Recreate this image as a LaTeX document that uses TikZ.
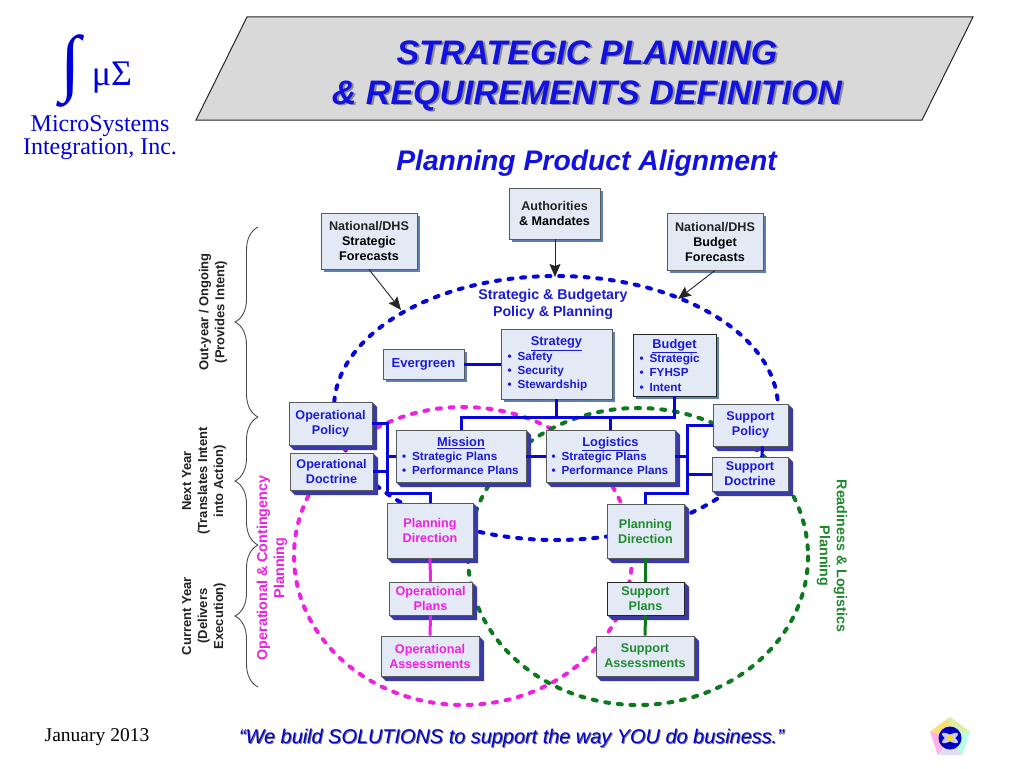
\documentclass[tikz,border=0pt]{standalone}
\usepackage{fontspec}
\setmainfont{Liberation Sans}
\newfontfamily\serifface{Liberation Serif}
\usetikzlibrary{arrows.meta,decorations.pathreplacing,calc}
\definecolor{tblue}{HTML}{1212E0}
\definecolor{lblue}{HTML}{1A1AD8}
\definecolor{busblue}{HTML}{0505DC}
\definecolor{mag}{HTML}{F020E0}
\definecolor{grn}{HTML}{0B7A1E}
\definecolor{txtgrn}{HTML}{1F8A2E}
\definecolor{face}{HTML}{E3EAF5}
\definecolor{edgegray}{HTML}{5A5A5A}
\definecolor{extr}{HTML}{3A3AA6}
\definecolor{softsh}{HTML}{5F7FB5}
\definecolor{txtdark}{HTML}{222222}
\newcommand{\fsz}[2]{\fontsize{#1}{#2}\selectfont}
\tikzset{
  x=1pt,y=-1pt,
  facebox/.style={fill=face,draw=edgegray,line width=0.9pt,inner sep=0pt,align=center,font=\bfseries\fsz{12.6}{15}},
  blackedge/.style={draw=black!85},
  dashring/.style={line width=4pt,line cap=round,dash pattern=on 4pt off 8.7pt},
  bus/.style={draw=busblue,line width=3pt},
  magbus/.style={draw=mag,line width=3pt},
  grnbus/.style={draw=grn,line width=3pt},
  feed/.style={draw=black!85,line width=0.9pt,-{Stealth[length=13pt,width=11pt,inset=2pt]}},
  sidenote/.style={font=\bfseries\fsz{13}{16},text=txtdark,align=center,rotate=90},
  brc/.style={draw=black!70,line width=0.9pt,decorate,decoration={brace,amplitude=23pt}}
}
% soft shadow box
\newcommand{\softbox}[7][]{%
  \fill[softsh] (#3+3,#4+3) rectangle (#5+3,#6+3);
  \node[facebox,#1,minimum width={(#5-#3)*1pt},minimum height={(#6-#4)*1pt}] (#2) at ({(#3+#5)/2},{(#4+#6)/2}) {#7};}
% extruded box
\newcommand{\exbox}[7][]{%
  \fill[extr] (#3,#6) -- (#3+5,#6+5) -- (#5+5,#6+5) -- (#5+5,#4+5) -- (#5,#4) -- cycle;
  \node[facebox,#1,minimum width={(#5-#3)*1pt},minimum height={(#6-#4)*1pt}] (#2) at ({(#3+#5)/2},{(#4+#6)/2}) {#7};}
\newcommand{\bul}{\textbullet\hspace{6pt}}
\begin{document}
\begin{tikzpicture}
\useasboundingbox (0,0) rectangle (1024,768);
\fill[white] (0,0) rectangle (1024,768);
% logo
\node[text=blue!85!black,font=\serifface\fsz{74}{78},inner sep=0pt] (integ) at (71,71) {∫};
\node[text=blue!85!black,font=\serifface\fsz{36}{38},inner sep=0pt] (musig) at (112,78) {μΣ};
\node[text=blue!85!black,font=\serifface\fsz{24}{25},inner sep=0pt] (ms) at (100,126) {MicroSystems};
\node[text=blue!85!black,font=\serifface\fsz{24}{25},inner sep=0pt] (inc) at (100,149) {Integration, Inc.};
% title banner
\draw[fill=black!15,draw=black!85,line width=1pt] (196,120) -- (247,17) -- (973,17) -- (922,120) -- cycle;
\node[text=black!45,font=\bfseries\itshape\fsz{34}{40},align=center,inner sep=0pt] (titlesh) at (589,77) {STRATEGIC PLANNING\\\& REQUIREMENTS DEFINITION};
\node[text=tblue,font=\bfseries\itshape\fsz{34}{40},align=center,inner sep=0pt] (title) at (587,75.5) {STRATEGIC PLANNING\\\& REQUIREMENTS DEFINITION};
\node[text=tblue,font=\bfseries\itshape\fsz{28.3}{30},inner sep=0pt] (sub) at (586.5,163) {Planning Product Alignment};
% rings
\draw[dashring,draw=busblue] (556,408) ellipse [x radius=222,y radius=132];
\draw[dashring,draw=mag] (463,556) ellipse [x radius=169,y radius=149];
\draw[dashring,draw=grn] (638,556.5) ellipse [x radius=170,y radius=148.5];
% side notes
\node[sidenote] (nOut) at (213,312) {Out-year / Ongoing\\(Provides Intent)};
\node[sidenote] (nNext) at (204,481) {Next Year\\(Translates Intent\\into Action)};
\node[sidenote] (nCur) at (204,616) {Current Year\\(Delivers\\Execution)};
\draw[brc] (258,417) -- (258,227);
\draw[brc] (258,545) -- (258,417);
\draw[brc] (258,687) -- (258,545);
\node[font=\bfseries\fsz{14.3}{17},text=mag,align=center,rotate=90] (nOp) at (272,568) {Operational \& Contingency\\Planning};
\node[font=\bfseries\fsz{14.3}{17},text=txtgrn,align=center,rotate=-90] (nRe) at (832,556) {Readiness \& Logistics\\Planning};
\node[font=\bfseries\fsz{14.2}{17},text=lblue,align=center,inner sep=0pt] (nSB) at (553,304) {Strategic \& Budgetary\\Policy \& Planning};
% top boxes
\softbox{fStrat}{321}{213}{417}{269}{\color{txtdark}National/DHS\\Strategic\\Forecasts}
\softbox{fAuth}{509}{188}{600}{239}{\color{txtdark}Authorities\\\& Mandates}
\softbox{fBudg}{667}{213}{763}{270}{\color{txtdark}National/DHS\\Budget\\Forecasts}
\softbox[font=\bfseries\fsz{13}{15},text=lblue]{ever}{383}{349}{464}{379}{Evergreen}
\softbox[text=lblue,font=\bfseries\fsz{11.7}{14.3},align=left,text width=98pt]{strategy}{501}{329}{612}{399}{\makebox[\linewidth][c]{\fsz{12.8}{14.3}\underline{Strategy}}\\\bul Safety\\\bul Security\\\bul Stewardship}
\softbox[blackedge,text=lblue,font=\bfseries\fsz{11.7}{14.3},align=left,text width=70pt]{budget}{633}{334}{716}{396}{\makebox[\linewidth][c]{\fsz{12.8}{14.3}\underline{Budget}}\\\bul Strategic\\\bul FYHSP\\\bul Intent}
\coordinate (busL) at (461,417);
\coordinate (lb) at (387,493);
\coordinate (rb) at (687,493);
% middle boxes
\exbox[text=lblue]{opPol}{289}{402}{372}{445}{Operational\\Policy}
\exbox[text=lblue]{opDoc}{290}{453}{373}{490}{Operational\\Doctrine}
\exbox[text=lblue,font=\bfseries\fsz{11.7}{14},align=left,text width=118pt]{mission}{396}{430}{526}{482}{\makebox[\linewidth][c]{\fsz{12.8}{14}\underline{Mission}}\\\bul Strategic Plans\\\bul Performance Plans}
\exbox[text=lblue,font=\bfseries\fsz{11.7}{14},align=left,text width=118pt]{logistics}{546}{430}{675}{482}{\makebox[\linewidth][c]{\fsz{12.8}{14}\underline{Logistics}}\\\bul Strategic Plans\\\bul Performance Plans}
\exbox[text=lblue]{supPol}{713}{404}{788}{446}{Support\\Policy}
\exbox[text=lblue]{supDoc}{712}{457}{788}{491}{Support\\Doctrine}
% lower boxes
\exbox[text=mag]{pdL}{387}{503}{473}{558}{Planning\\Direction}
\exbox[text=txtgrn]{pdR}{607}{504}{684}{558}{Planning\\Direction}
\exbox[text=mag]{opPlans}{389}{582}{472}{615}{Operational\\Plans}
\exbox[text=mag]{opAss}{381}{636}{479}{676}{Operational\\Assessments}
\exbox[blackedge,text=txtgrn]{supPlans}{607}{582}{684}{615}{Support\\Plans}
\exbox[text=txtgrn]{supAss}{596}{636}{694}{676}{Support\\Assessments}
% feeds
\coordinate (hitL) at (401,310);
\coordinate (hitC) at (555,277);
\coordinate (hitR) at (678,299);
\draw[feed] (fStrat.south) -- (hitL);
\draw[feed] (fAuth.south -| hitC) -- (hitC);
\draw[feed] (fBudg.south) -- (hitR);
% blue connectors
\draw[bus] (ever.east) -- (strategy.west);
\draw[bus] (mission.north) |- (busL) -- (busL -| budget.south) -- (budget.south);
\draw[bus] (strategy.south) -- (strategy.south |- busL);
\draw[bus] (logistics.north) -- (logistics.north |- busL);
\draw[bus] (mission.east) -- (logistics.west);
\draw[bus] (opPol.east) -| (lb) -| (pdL.north);
\draw[bus] (opDoc.east) -- (opDoc.east -| lb);
\draw[bus] (mission.west) -- (mission.west -| lb);
\draw[bus] (supPol.west) -| (rb) -| (pdR.north);
\draw[bus] (logistics.east) -- (logistics.east -| rb);
\draw[bus] (supDoc.west) -- (supDoc.west -| rb);
\draw[bus] ([xshift=12pt]supPol.south) -- ([xshift=12pt]supDoc.north);
% lower connectors
\draw[magbus] (pdL.south) -- (opPlans.north);
\draw[magbus] (opPlans.south) -- (opAss.north);
\draw[grnbus] (pdR.south) -- (supPlans.north);
\draw[grnbus] (supPlans.south) -- (supAss.north);
% footer
\node[font=\serifface\fsz{19.5}{22},text=black,inner sep=0pt] (jan) at (97,737) {January 2013};
\node[text=black!55,font=\itshape\fsz{19.9}{22},inner sep=0pt] (quotesh) at (512.5,739.5) {“We build SOLUTIONS to support the way YOU do business.”};
\node[text=blue!80!black,font=\itshape\fsz{19.9}{22},inner sep=0pt] (quote) at (511.5,738) {“We build SOLUTIONS to support the way YOU do business.”};
% emblem
\coordinate (em) at (950,738);
\coordinate (p1) at (950,717);
\coordinate (p2) at (970,731.5);
\coordinate (p3) at (962.3,755);
\coordinate (p4) at (937.7,755);
\coordinate (p5) at (930,731.5);
\fill[yellow!55!orange!50] (em) -- (p5) -- (p1) -- cycle;
\fill[yellow!60!green!35] (em) -- (p1) -- (p2) -- cycle;
\fill[green!30!cyan!30] (em) -- (p2) -- (p3) -- cycle;
\fill[cyan!20!blue!12] (em) -- (p3) -- (p4) -- cycle;
\fill[red!30!magenta!30] (em) -- (p4) -- (p5) -- cycle;
\fill[blue!75!black] (em) circle (11.5);
\fill[white!80!blue,rotate around={30:(em)}] (em) ellipse [x radius=9,y radius=3];
\fill[white!80!blue,rotate around={-30:(em)}] (em) ellipse [x radius=9,y radius=3];
\fill[yellow!80!orange] (em) circle (3);
\end{tikzpicture}
\end{document}
